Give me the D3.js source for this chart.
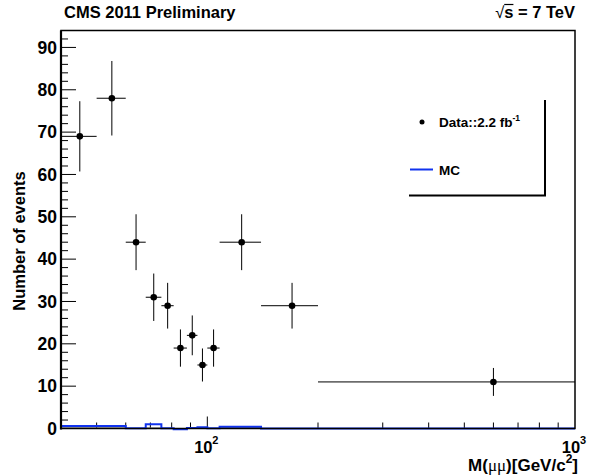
<!DOCTYPE html>
<html>
<head>
<meta charset="utf-8">
<script src="https://cdn.jsdelivr.net/npm/d3@7"></script>
<style>
body { margin: 0; background: #fff; }
text { font-family: "Liberation Sans", Arial, sans-serif; font-weight: bold; fill: #000; }
</style>
</head>
<body>
<div id="chart"></div>
<script>
// bins in M(mumu), GeV
var binEdges = [40, 50, 60, 68, 75, 81, 88, 94, 100, 108, 140, 200, 1000];
var dataCounts = [69, 78, 44, 31, 29, 19, 22, 15, 19, 44, 29, 11];
var dataErrors = [8.3, 8.8, 6.6, 5.6, 5.4, 4.4, 4.7, 3.9, 4.4, 6.6, 5.4, 3.3];
var mcValues = [0.6, 0.6, 0.05, 1.0, 0.05, -0.2, 0.1, 0.3, 0.05, 0.4, 0, 0];
var bkgValues = [0.3, 0.3, 0, 0.15, 0, 0, 0, 0.1, 0, 0.2, 0, 0];
var yTicks = [0, 10, 20, 30, 40, 50, 60, 70, 80, 90];
var xMajor = [100, 1000];
var xMajorLabels = ["2", "3"];

var w = 589, h = 475;
var margin = {top: 30.5, right: 14, bottom: 46.5, left: 61};

var svg = d3.select("#chart").append("svg")
    .attr("width", w)
    .attr("height", h);

var xScale = d3.scaleLog()
    .domain([40, 1000])
    .range([margin.left, w - margin.right]);

var yScale = d3.scaleLinear()
    .domain([0, 94])
    .range([h - margin.bottom, margin.top]);

var y0 = yScale(0);

// minor x ticks (2..9 of each decade inside the range)
var xMinor = [];
[10, 100].forEach(function (dec) {
  for (var k = 2; k <= 9; k++) {
    var v = dec * k;
    if (v > 40 && v < 1000 && v != 100) xMinor.push(v);
  }
});

var yMinor = d3.range(0, 94, 2).filter(function (v) { return v % 10 != 0; });

var axes = svg.append("g");

axes.selectAll(".xminor")
  .data(xMinor)
  .enter().append("line")
    .attr("x1", d => xScale(d)).attr("x2", d => xScale(d))
    .attr("y1", y0).attr("y2", y0 - 6)
    .attr("stroke", "#000").attr("stroke-width", 1);

axes.selectAll(".xmajor")
  .data([100])
  .enter().append("line")
    .attr("x1", d => xScale(d)).attr("x2", d => xScale(d))
    .attr("y1", y0).attr("y2", y0 - 12)
    .attr("stroke", "#000").attr("stroke-width", 1);

axes.selectAll(".yminor")
  .data(yMinor)
  .enter().append("line")
    .attr("x1", margin.left).attr("x2", margin.left + 7)
    .attr("y1", d => yScale(d)).attr("y2", d => yScale(d))
    .attr("stroke", "#000").attr("stroke-width", 1);

axes.selectAll(".ymajor")
  .data(yTicks.slice(1))
  .enter().append("line")
    .attr("x1", margin.left).attr("x2", margin.left + 15)
    .attr("y1", d => yScale(d)).attr("y2", d => yScale(d))
    .attr("stroke", "#000").attr("stroke-width", 1);

// y tick labels
axes.selectAll(".ylab")
  .data(yTicks)
  .enter().append("text")
    .attr("x", margin.left - 4)
    .attr("y", d => yScale(d))
    .attr("dy", "0.36em")
    .attr("text-anchor", "end")
    .style("font-size", "17.5px")
    .text(d => d);

// x tick labels 10^n
xMajor.forEach(function (v, i) {
  axes.append("text")
      .attr("x", xScale(v) - 4)
      .attr("y", 453)
      .attr("text-anchor", "middle")
      .style("font-size", "16.5px")
      .text("10");
  axes.append("text")
      .attr("x", xScale(v) + 5)
      .attr("y", 444)
      .style("font-size", "11px")
      .text(xMajorLabels[i]);
});

// histograms (step outlines)
function stepPath(vals) {
  var p = d3.path();
  p.moveTo(xScale(binEdges[0]), yScale(vals[0]));
  vals.forEach(function (v, i) {
    p.lineTo(xScale(binEdges[i]), yScale(v));
    p.lineTo(xScale(binEdges[i + 1]), yScale(v));
  });
  return p.toString();
}

svg.append("path")
    .attr("d", stepPath(bkgValues))
    .attr("fill", "none")
    .attr("stroke", "#777")
    .attr("stroke-width", 1);

svg.append("path")
    .attr("d", stepPath(mcValues))
    .attr("fill", "none")
    .attr("stroke", "#1133ee")
    .attr("stroke-width", 2);

// data points with error bars
var pts = binEdges.slice(0, -1).map(function (lo, i) {
  return {lo: lo, hi: binEdges[i + 1], c: (lo + binEdges[i + 1]) / 2, n: dataCounts[i], e: dataErrors[i]};
});

var g = svg.append("g");
g.selectAll(".xerr").data(pts).enter().append("line")
    .attr("x1", d => xScale(d.lo)).attr("x2", d => xScale(d.hi))
    .attr("y1", d => yScale(d.n)).attr("y2", d => yScale(d.n))
    .attr("stroke", "#000").attr("stroke-width", 1);
g.selectAll(".yerr").data(pts).enter().append("line")
    .attr("x1", d => xScale(d.c)).attr("x2", d => xScale(d.c))
    .attr("y1", d => yScale(d.n - d.e)).attr("y2", d => yScale(d.n + d.e))
    .attr("stroke", "#000").attr("stroke-width", 1);
g.selectAll("circle").data(pts).enter().append("circle")
    .attr("cx", d => xScale(d.c))
    .attr("cy", d => yScale(d.n))
    .attr("r", 3.3)
    .attr("fill", "#000");

// frame
svg.append("rect")
    .attr("x", margin.left)
    .attr("y", margin.top)
    .attr("width", w - margin.right - margin.left)
    .attr("height", y0 - margin.top)
    .attr("fill", "none")
    .attr("stroke", "#000")
    .attr("stroke-width", 1.5);
svg.append("line")
    .attr("x1", margin.left).attr("x2", margin.left)
    .attr("y1", margin.top).attr("y2", y0 + 1)
    .attr("stroke", "#000").attr("stroke-width", 2.2);

// titles
svg.append("text")
    .attr("x", 64).attr("y", 18)
    .style("font-size", "16.5px")
    .text("CMS 2011 Preliminary");

var energy = svg.append("text")
    .attr("x", 575).attr("y", 18)
    .attr("text-anchor", "end")
    .style("font-size", "16.5px")
    .text("s = 7 TeV");
var eLen = energy.node().getComputedTextLength();
var sLen = energy.node().getSubStringLength(0, 1);
var sx = 575 - eLen;
svg.append("text")
    .attr("x", sx).attr("y", 18)
    .attr("text-anchor", "end")
    .style("font-size", "16.5px")
    .style("font-weight", "normal")
    .text("\u221A");
svg.append("line")
    .attr("x1", sx).attr("x2", sx + sLen)
    .attr("y1", 4.5).attr("y2", 4.5)
    .attr("stroke", "#000").attr("stroke-width", 1.2);

// axis titles
var xt = svg.append("text")
    .attr("x", 578).attr("y", 471)
    .attr("text-anchor", "end")
    .style("font-size", "17px");
xt.append("tspan").text("M(");
xt.append("tspan").style("font-family", "'Liberation Serif', serif").style("font-weight", "normal").text("\u03BC\u03BC");
xt.append("tspan").text(")[GeV/c");
xt.append("tspan").attr("dy", -8).style("font-size", "12px").text("2");
xt.append("tspan").attr("dy", 8).text("]");

svg.append("text")
    .attr("transform", "translate(25,241) rotate(-90)")
    .attr("text-anchor", "middle")
    .style("font-size", "16.5px")
    .text("Number of events");

// legend (shadow only visible)
svg.append("path")
    .attr("d", "M545,100 L545,195.5 L409,195.5")
    .attr("fill", "none")
    .attr("stroke", "#000")
    .attr("stroke-width", 2);

svg.append("circle")
    .attr("cx", 422).attr("cy", 122).attr("r", 2.5).attr("fill", "#000");
var lt = svg.append("text")
    .attr("x", 439).attr("y", 127)
    .style("font-size", "13.5px");
lt.append("tspan").text("Data::2.2 fb");
lt.append("tspan").attr("dy", -6).style("font-size", "8.5px").text("-1");

svg.append("line")
    .attr("x1", 410).attr("x2", 433)
    .attr("y1", 169.5).attr("y2", 169.5)
    .attr("stroke", "#1133ee").attr("stroke-width", 2);
svg.append("text")
    .attr("x", 439).attr("y", 174.5)
    .style("font-size", "13.5px")
    .text("MC");
</script>
</body>
</html>
